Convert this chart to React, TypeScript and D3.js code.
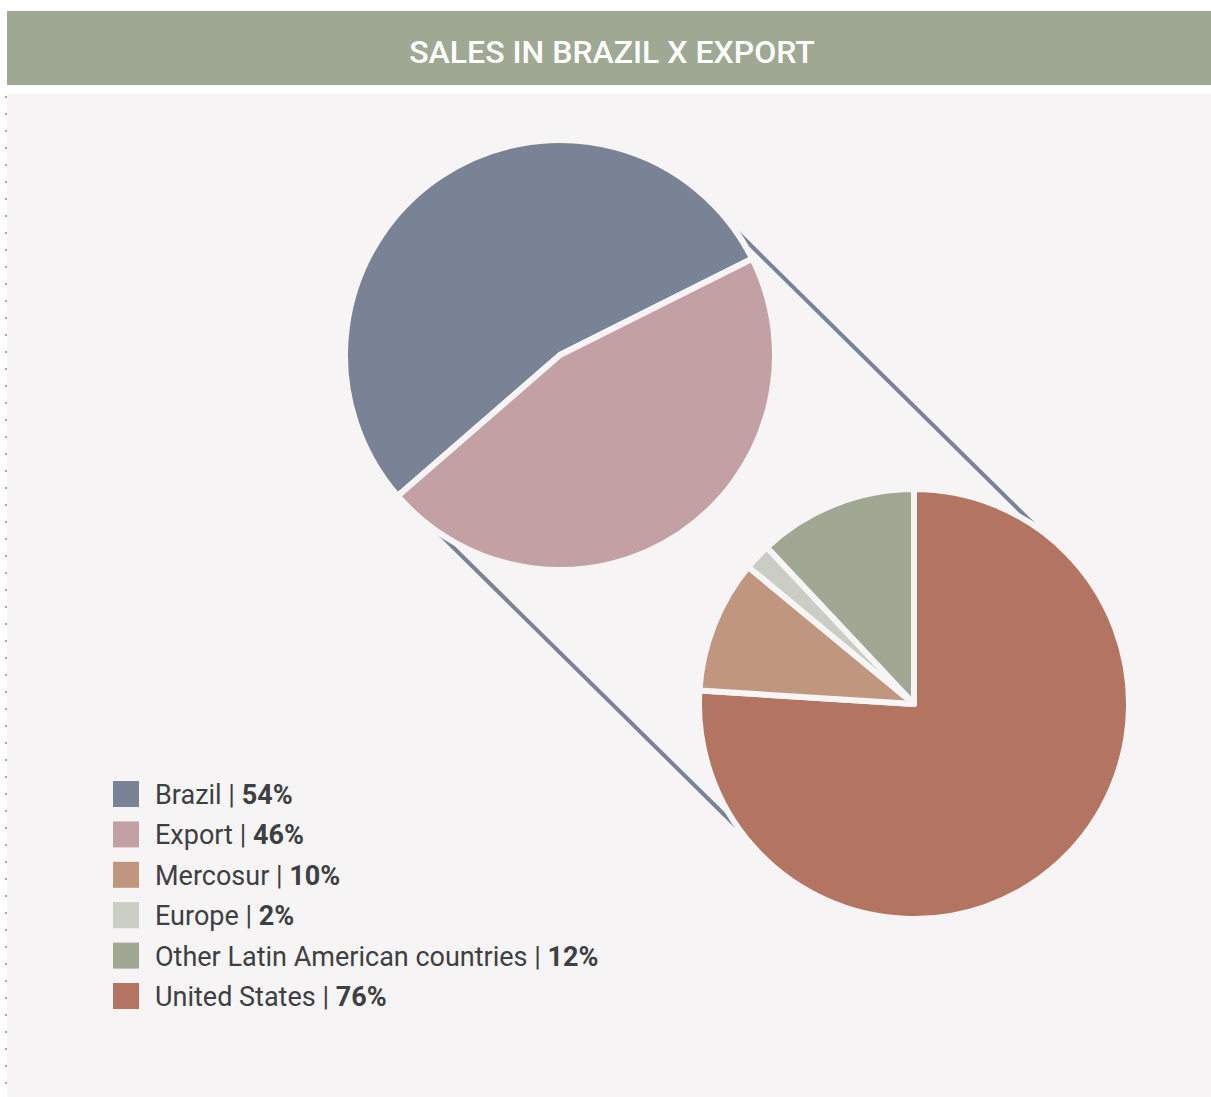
import React from 'react';
import * as d3 from 'd3';

// pie 1: domestic vs export
const mainLabels = ['Brazil', 'Export'];
const mainValues = [54, 46];
const mainColors = ['#7a8295', '#c2a0a4'];

// pie 2: export breakdown
const exportLabels = ['United States', 'Mercosur', 'Europe', 'Other Latin American countries'];
const exportValues = [76, 10, 2, 12];
const exportColors = ['#b37461', '#c1967f', '#c9cdc3', '#a0a893'];

// legend order as in the picture
const legendLabels = ['Brazil', 'Export', 'Mercosur', 'Europe', 'Other Latin American countries', 'United States'];
const legendValues = ['54%', '46%', '10%', '2%', '12%', '76%'];
const legendColors = ['#7a8295', '#c2a0a4', '#c1967f', '#c9cdc3', '#a0a893', '#b37461'];

const W = 1211;
const H = 1097;
const PANEL = '#f7f4f5';

export default function App() {
  const r = 215;
  const c1 = { x: 560, y: 355 };
  const c2 = { x: 914, y: 704 };

  const arc = d3.arc<d3.PieArcDatum<number>>().innerRadius(0).outerRadius(r);

  const deg = Math.PI / 180;
  const pie1 = d3.pie<number>().sort(null).startAngle(-131 * deg).endAngle(229 * deg)(mainValues);
  const pie2 = d3.pie<number>().sort(null)(exportValues);

  // tangent lines between the two circles
  const dx = c2.x - c1.x;
  const dy = c2.y - c1.y;
  const len = Math.hypot(dx, dy);
  const lr = r - 3;
  const px = (dy / len) * lr;
  const py = (-dx / len) * lr;

  const legendY = d3.scaleLinear().domain([0, legendLabels.length - 1]).range([794, 996]);

  return (
    <svg width={W} height={H} style={{ position: 'absolute', left: 0, top: 0, display: 'block' }}>
      <rect x={0} y={0} width={W} height={H} fill="#ffffff" />
      <rect x={7} y={11} width={W - 7} height={74} fill="#9fa892" />
      <text
        x={612}
        y={63}
        textAnchor="middle"
        fill="#ffffff"
        fontFamily="Roboto, 'Open Sans', sans-serif"
        fontWeight={500}
        fontSize={32}
      >
        SALES IN BRAZIL X EXPORT
      </text>
      <rect x={7} y={94} width={W - 7} height={H - 94} fill={PANEL} />
      <line x1={6} y1={96} x2={6} y2={H} stroke="#d49a80" strokeWidth={2} strokeDasharray="2 15" />

      <line x1={c1.x + px} y1={c1.y + py} x2={c2.x + px} y2={c2.y + py} stroke="#7a8295" strokeWidth={4} />
      <line x1={c1.x - px} y1={c1.y - py} x2={c2.x - px} y2={c2.y - py} stroke="#7a8295" strokeWidth={4} />

      <g transform={`translate(${c1.x},${c1.y})`}>
        {pie1.map((d, i) => (
          <path key={mainLabels[i]} d={arc(d) || ''} fill={mainColors[i]} stroke={PANEL} strokeWidth={6} strokeLinejoin="round" />
        ))}
      </g>
      <g transform={`translate(${c2.x},${c2.y})`}>
        {pie2.map((d, i) => (
          <path key={exportLabels[i]} d={arc(d) || ''} fill={exportColors[i]} stroke={PANEL} strokeWidth={6} strokeLinejoin="round" />
        ))}
      </g>

      <g fontFamily="Roboto, 'Open Sans', sans-serif" fontSize={27} fill="#3d4043">
        {legendLabels.map((l, i) => (
          <g key={l} transform={`translate(0,${legendY(i)})`}>
            <rect x={113} y={-13} width={26} height={26} fill={legendColors[i]} />
            <text x={155} y={10}>
              {l} | <tspan fontWeight={700}>{legendValues[i]}</tspan>
            </text>
          </g>
        ))}
      </g>
    </svg>
  );
}
